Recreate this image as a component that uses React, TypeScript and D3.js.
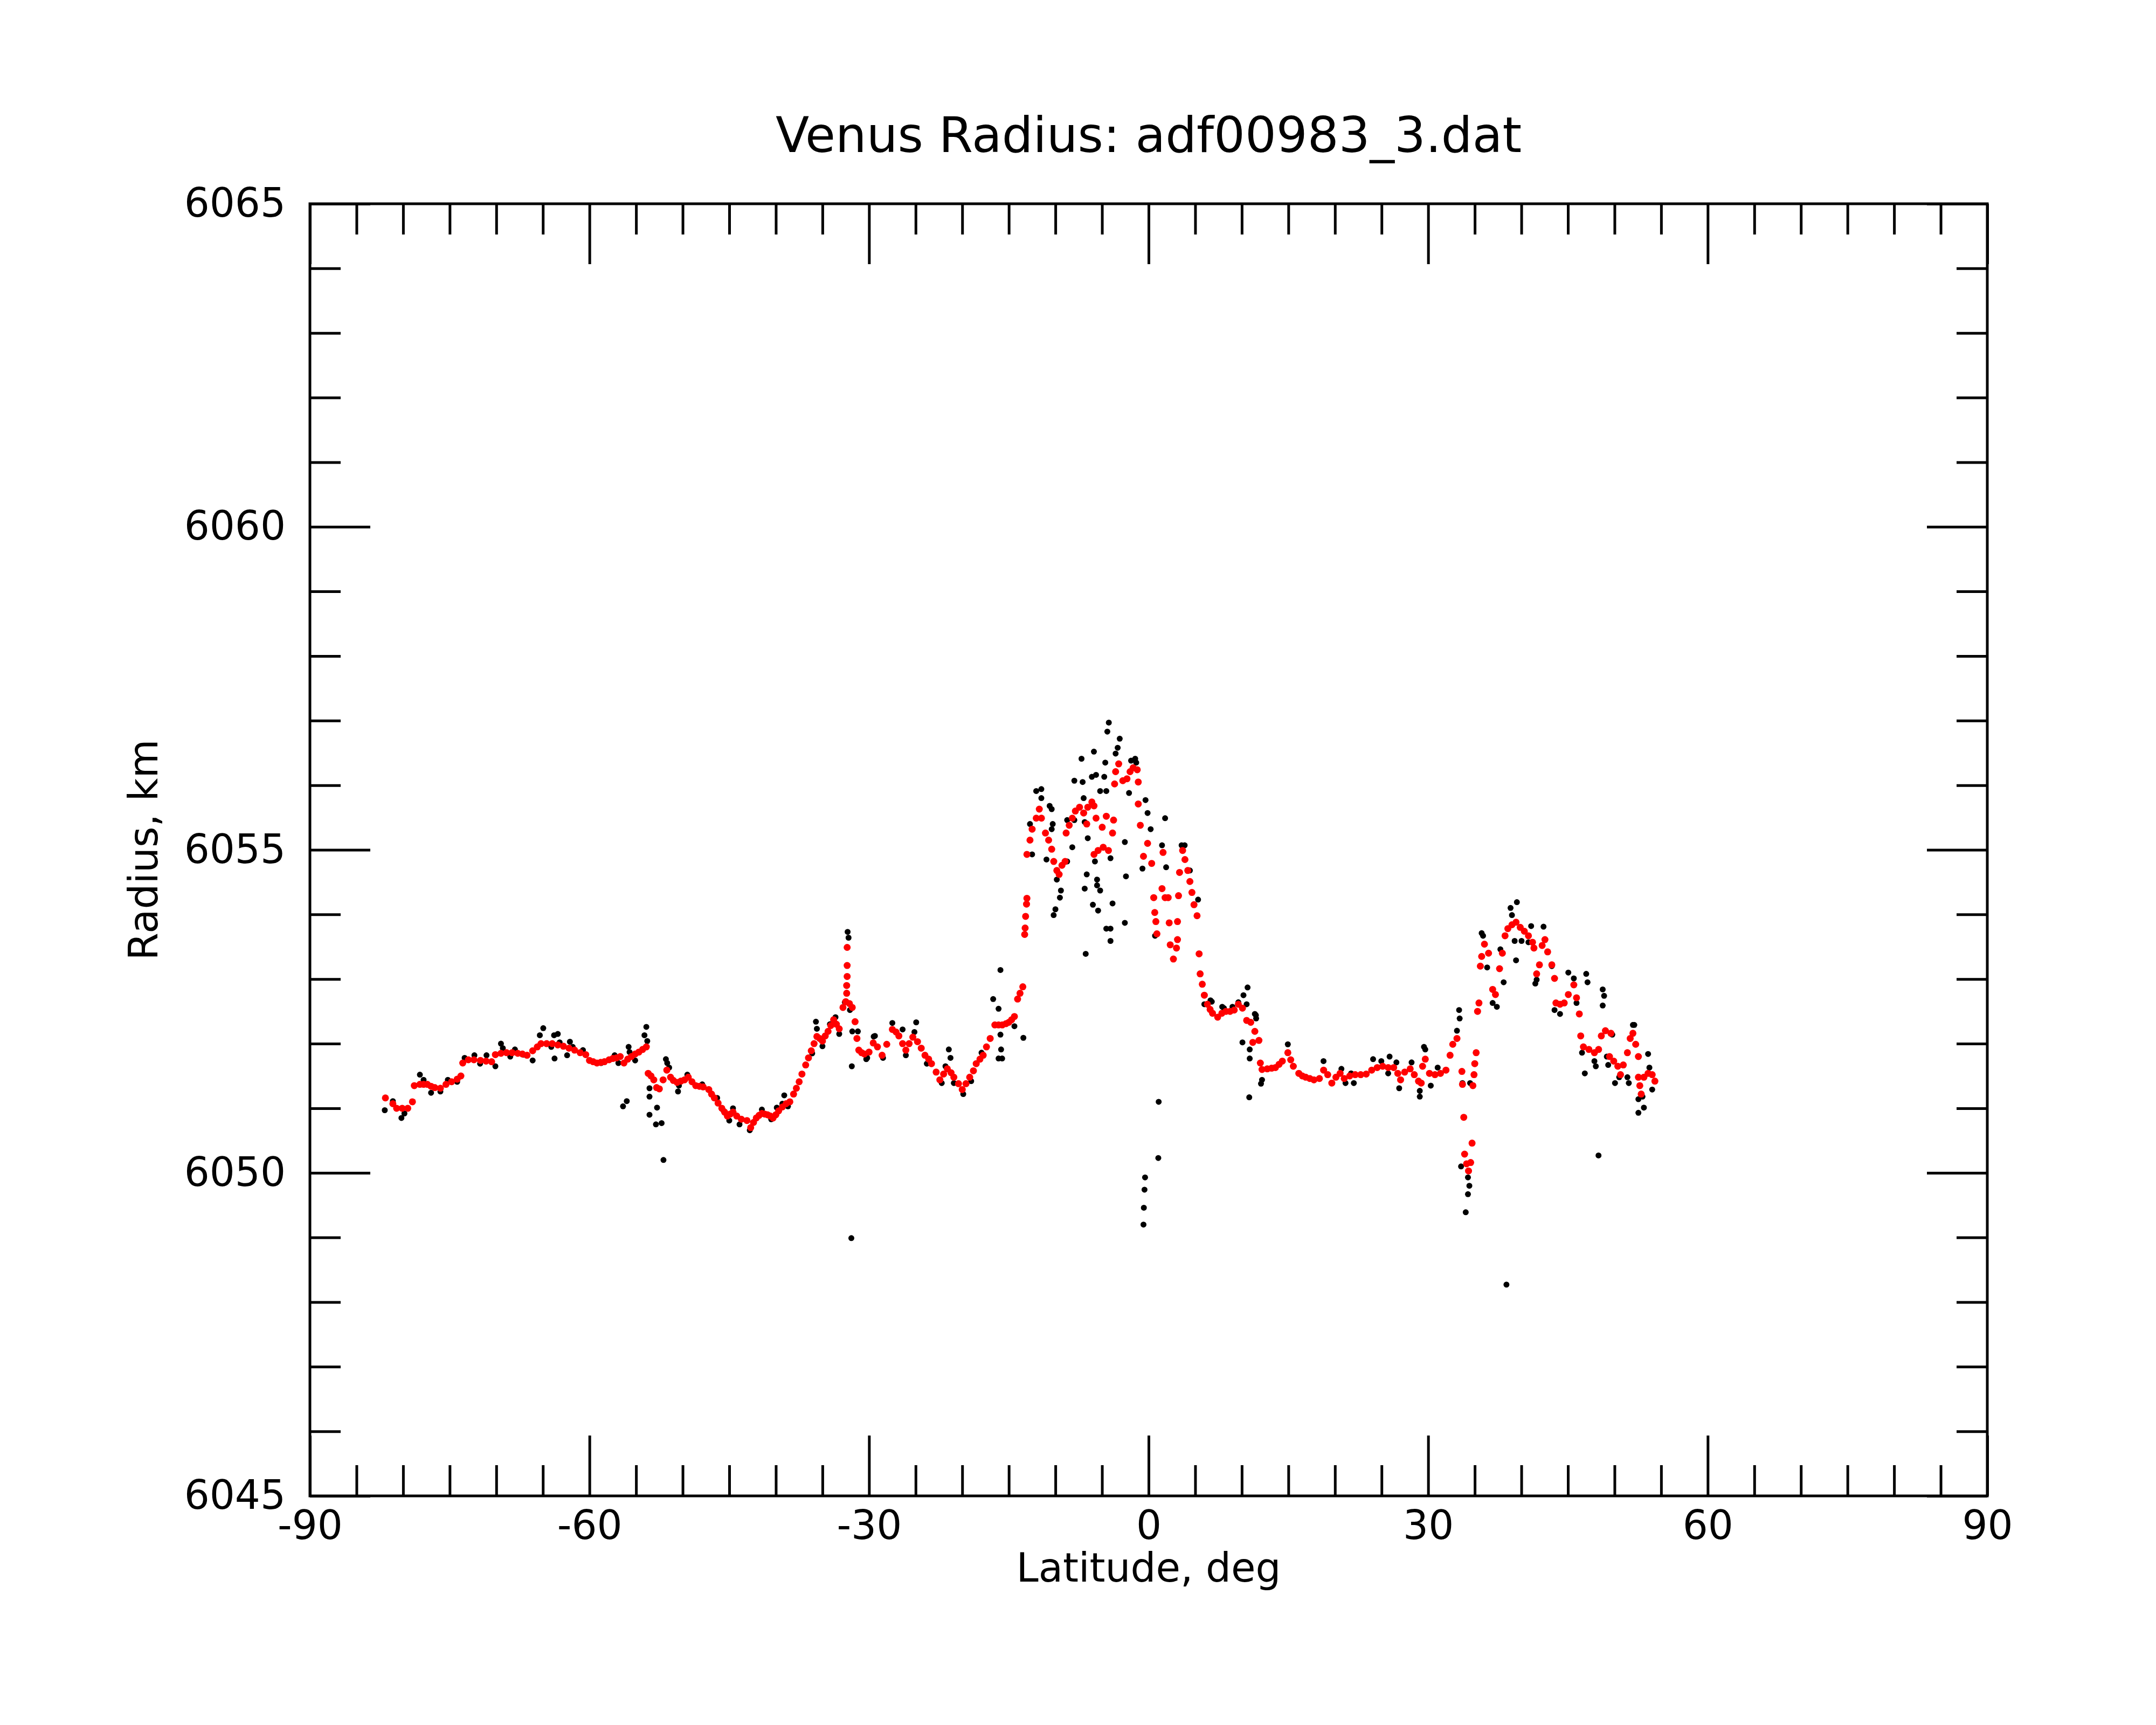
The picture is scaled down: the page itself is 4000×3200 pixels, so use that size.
import React, { useRef, useEffect } from 'react';
import * as d3 from 'd3';

// smoothed radius profile (red), [latitude deg, radius km]
const smoothedPoints: [number, number][] = [
  [-81.9, 6051.16], [-81.1, 6051.07], [-80.7, 6051.0], [-80.1, 6051.0], [-79.5, 6051.0], [-79.0, 6051.1],
  [-78.8, 6051.35], [-78.2, 6051.37], [-77.8, 6051.37], [-77.4, 6051.37], [-77.0, 6051.34], [-76.6, 6051.32],
  [-76.0, 6051.31], [-75.4, 6051.37], [-74.8, 6051.41], [-74.2, 6051.45], [-73.8, 6051.5], [-73.6, 6051.7],
  [-73.0, 6051.75], [-72.4, 6051.75], [-71.7, 6051.74], [-71.1, 6051.73], [-70.5, 6051.72], [-70.1, 6051.83],
  [-69.5, 6051.85], [-68.9, 6051.86], [-68.3, 6051.86], [-67.7, 6051.85], [-67.2, 6051.84], [-66.7, 6051.82],
  [-66.1, 6051.89], [-65.6, 6051.95], [-65.2, 6052.0], [-64.6, 6052.0], [-64.0, 6052.0], [-63.4, 6051.98],
  [-62.8, 6051.96], [-62.2, 6051.93], [-61.6, 6051.9], [-61.0, 6051.86], [-60.4, 6051.83], [-60.0, 6051.74],
  [-59.6, 6051.72], [-59.2, 6051.7], [-58.8, 6051.71], [-58.4, 6051.72], [-57.9, 6051.75], [-57.5, 6051.77],
  [-57.1, 6051.78], [-56.7, 6051.8], [-56.3, 6051.7], [-55.9, 6051.76], [-55.5, 6051.8], [-55.1, 6051.84],
  [-54.7, 6051.87], [-54.3, 6051.91], [-53.9, 6051.95], [-53.7, 6051.54], [-53.4, 6051.5], [-53.1, 6051.44],
  [-52.8, 6051.32], [-52.5, 6051.3], [-52.1, 6051.44], [-51.7, 6051.59], [-51.3, 6051.48], [-51.0, 6051.43],
  [-50.6, 6051.4], [-50.2, 6051.42], [-49.8, 6051.44], [-49.4, 6051.48], [-49.0, 6051.41], [-48.6, 6051.35],
  [-48.2, 6051.34], [-47.8, 6051.33], [-47.2, 6051.29], [-46.9, 6051.22], [-46.6, 6051.16], [-46.2, 6051.08],
  [-45.8, 6051.0], [-45.5, 6050.94], [-45.2, 6050.88], [-44.9, 6050.91], [-44.6, 6050.94], [-44.2, 6050.88],
  [-43.7, 6050.83], [-43.1, 6050.81], [-42.7, 6050.7], [-42.4, 6050.78], [-42.1, 6050.85], [-41.8, 6050.89],
  [-41.5, 6050.92], [-41.2, 6050.91], [-40.9, 6050.9], [-40.6, 6050.88], [-40.3, 6050.85], [-40.0, 6050.9],
  [-39.7, 6050.96], [-39.3, 6051.02], [-38.9, 6051.07], [-38.5, 6051.1], [-38.1, 6051.22], [-37.8, 6051.31],
  [-37.5, 6051.41], [-37.2, 6051.53], [-36.8, 6051.67], [-36.5, 6051.78], [-36.2, 6051.89], [-35.9, 6052.0],
  [-35.6, 6052.11], [-35.3, 6052.08], [-35.0, 6052.04], [-34.7, 6052.12], [-34.4, 6052.19], [-34.1, 6052.28],
  [-33.8, 6052.37], [-33.5, 6052.3], [-33.2, 6052.23], [-32.8, 6052.56], [-32.5, 6052.65], [-32.4, 6052.78],
  [-32.4, 6052.9], [-32.35, 6053.04], [-32.35, 6053.21], [-32.35, 6053.49], [-32.1, 6052.62], [-31.8, 6052.56],
  [-31.5, 6052.34], [-31.3, 6052.08], [-31.1, 6051.9], [-30.8, 6051.86], [-30.5, 6051.84], [-30.0, 6051.87],
  [-29.55, 6052.01], [-29.1, 6051.95], [-28.6, 6051.82], [-28.1, 6051.99], [-27.5, 6052.22], [-27.1, 6052.18],
  [-26.8, 6052.12], [-26.4, 6052.0], [-26.05, 6051.9], [-25.7, 6052.0], [-25.3, 6052.1], [-24.8, 6052.03],
  [-24.4, 6051.93], [-24.0, 6051.82], [-23.6, 6051.76], [-23.3, 6051.69], [-22.8, 6051.56], [-22.4, 6051.44],
  [-22.0, 6051.53], [-21.6, 6051.61], [-21.2, 6051.55], [-20.9, 6051.48], [-20.4, 6051.38], [-20.0, 6051.29],
  [-19.6, 6051.38], [-19.2, 6051.48], [-18.8, 6051.58], [-18.5, 6051.69], [-18.1, 6051.76], [-17.75, 6051.82],
  [-17.4, 6051.95], [-17.0, 6052.08], [-16.5, 6052.29], [-16.1, 6052.29], [-15.7, 6052.29], [-15.3, 6052.31],
  [-15.0, 6052.33], [-14.7, 6052.37], [-14.4, 6052.42], [-14.06, 6052.69], [-13.8, 6052.78], [-13.5, 6052.88],
  [-13.3, 6053.69], [-13.25, 6053.79], [-13.2, 6053.97], [-13.1, 6054.16], [-13.06, 6054.25], [-13.06, 6054.93],
  [-12.73, 6055.15], [-12.5, 6055.32], [-12.06, 6055.49], [-11.73, 6055.63], [-11.5, 6055.49], [-11.07, 6055.26],
  [-10.73, 6055.15], [-10.4, 6055.01], [-10.18, 6054.82], [-9.85, 6054.68], [-9.6, 6054.62], [-9.3, 6054.76],
  [-8.96, 6054.82], [-8.85, 6055.26], [-8.52, 6055.38], [-8.19, 6055.49], [-7.86, 6055.6], [-7.41, 6055.66],
  [-6.97, 6055.57], [-6.64, 6055.4], [-6.53, 6055.66], [-6.09, 6055.74], [-5.86, 6055.68], [-5.64, 6055.49],
  [-5.86, 6054.93], [-5.42, 6054.99], [-4.98, 6055.35], [-4.87, 6055.04], [-4.54, 6055.52], [-4.31, 6054.99],
  [-3.87, 6055.26], [-3.76, 6055.46], [-3.65, 6056.02], [-3.54, 6056.21], [-3.21, 6056.33], [-2.77, 6056.07],
  [-2.32, 6056.1], [-1.99, 6056.21], [-1.66, 6056.27], [-1.22, 6056.24], [-1.11, 6056.05], [-1.11, 6055.71],
  [-0.89, 6055.38], [-0.55, 6054.9], [-0.11, 6055.1], [0.33, 6054.79], [0.55, 6054.26], [0.66, 6054.03],
  [0.78, 6053.89], [0.89, 6053.7], [1.44, 6054.4], [1.55, 6054.96], [1.77, 6054.26], [2.1, 6054.26],
  [2.21, 6053.87], [2.32, 6053.53], [2.66, 6053.31], [2.99, 6053.48], [3.1, 6053.61], [3.1, 6053.89],
  [3.21, 6054.29], [3.32, 6054.65], [3.65, 6054.99], [3.9, 6054.85], [4.2, 6054.68], [4.43, 6054.51],
  [4.65, 6054.34], [4.87, 6054.15], [5.2, 6053.98], [5.42, 6053.39], [5.53, 6053.08], [5.76, 6052.92],
  [5.98, 6052.75], [6.31, 6052.61], [6.6, 6052.53], [6.86, 6052.47], [7.41, 6052.41], [7.86, 6052.47],
  [8.3, 6052.5], [8.74, 6052.5], [9.19, 6052.52], [9.63, 6052.61], [10.07, 6052.55], [10.52, 6052.36],
  [10.96, 6052.33], [11.18, 6052.02], [11.4, 6052.19], [11.84, 6052.05], [11.99, 6051.7], [12.17, 6051.6],
  [12.73, 6051.61], [13.2, 6051.62], [13.61, 6051.63], [14.0, 6051.68], [14.35, 6051.73], [14.94, 6051.86],
  [15.25, 6051.75], [15.53, 6051.65], [16.12, 6051.54], [16.5, 6051.5], [16.86, 6051.48], [17.3, 6051.46],
  [17.74, 6051.44], [18.33, 6051.46], [18.78, 6051.59], [19.22, 6051.52], [19.66, 6051.39], [20.1, 6051.48],
  [20.55, 6051.54], [20.99, 6051.46], [21.58, 6051.5], [22.17, 6051.52], [22.76, 6051.52], [23.35, 6051.53],
  [23.94, 6051.59], [24.53, 6051.63], [25.12, 6051.65], [25.71, 6051.63], [26.3, 6051.63], [26.74, 6051.54],
  [27.04, 6051.44], [27.48, 6051.56], [28.07, 6051.61], [28.51, 6051.52], [28.96, 6051.42], [29.25, 6051.39],
  [29.4, 6051.65], [29.69, 6051.76], [30.14, 6051.54], [30.73, 6051.52], [31.32, 6051.54], [31.91, 6051.59],
  [32.35, 6051.82], [32.64, 6051.99], [33.09, 6052.08], [33.62, 6051.57], [33.68, 6051.37], [33.82, 6050.86],
  [33.91, 6050.29], [34.12, 6050.14], [34.33, 6050.03], [34.56, 6050.16], [34.71, 6050.46], [34.8, 6051.35],
  [34.92, 6051.52], [35.0, 6051.69], [35.15, 6051.86], [35.3, 6052.5], [35.45, 6052.63], [35.6, 6053.2],
  [35.74, 6053.35], [36.04, 6053.54], [36.48, 6053.4], [36.92, 6052.84], [37.22, 6052.76], [37.66, 6053.16],
  [37.96, 6053.4], [38.25, 6053.67], [38.55, 6053.78], [38.99, 6053.84], [39.43, 6053.88], [39.88, 6053.8],
  [40.32, 6053.74], [40.76, 6053.67], [41.2, 6053.57], [41.35, 6053.48], [41.64, 6053.08], [41.94, 6053.22],
  [42.23, 6053.52], [42.53, 6053.61], [42.82, 6053.42], [43.27, 6053.22], [43.56, 6053.01], [43.71, 6052.63],
  [44.15, 6052.61], [44.6, 6052.63], [45.04, 6052.76], [45.63, 6052.91], [45.92, 6052.71], [46.22, 6052.46],
  [46.37, 6052.12], [46.66, 6051.95], [47.25, 6051.91], [47.84, 6051.86], [48.29, 6051.91], [48.58, 6052.12],
  [49.02, 6052.2], [49.61, 6052.16], [49.46, 6051.8], [49.91, 6051.73], [50.35, 6051.65], [50.64, 6051.52],
  [50.94, 6051.67], [51.38, 6051.86], [51.68, 6052.08], [51.97, 6052.16], [52.27, 6051.99], [52.56, 6051.8],
  [52.56, 6051.48], [52.71, 6051.35], [52.86, 6051.22], [53.15, 6051.48], [53.6, 6051.54], [54.04, 6051.52],
  [54.33, 6051.42],
];

// raw radius samples (black), [latitude deg, radius km]
const rawPoints: [number, number][] = [
  [-81.97, 6050.97], [-81.1, 6051.11], [-80.18, 6050.85], [-79.86, 6050.92], [-78.2, 6051.52], [-77.8, 6051.44],
  [-77.0, 6051.24], [-76.0, 6051.26], [-75.2, 6051.44], [-74.2, 6051.41], [-73.4, 6051.78], [-72.35, 6051.82],
  [-71.74, 6051.69], [-71.05, 6051.82], [-70.1, 6051.65], [-69.5, 6052.0], [-69.3, 6051.93], [-68.5, 6051.8],
  [-68.0, 6051.91], [-67.1, 6051.83], [-66.1, 6051.74], [-65.33, 6052.13], [-64.96, 6052.24], [-64.1, 6051.95],
  [-63.8, 6052.13], [-63.4, 6052.15], [-63.75, 6051.77], [-63.2, 6052.02], [-62.4, 6051.82], [-62.1, 6052.03],
  [-61.8, 6051.95], [-60.7, 6051.9], [-58.75, 6051.7], [-57.3, 6051.82], [-56.9, 6051.7], [-56.4, 6051.03],
  [-56.0, 6051.11], [-55.8, 6051.95], [-55.7, 6051.87], [-55.1, 6051.74], [-54.1, 6052.13], [-53.9, 6052.26],
  [-53.8, 6052.04], [-53.56, 6051.31], [-53.56, 6051.18], [-53.56, 6050.9], [-52.75, 6051.01], [-52.87, 6050.75],
  [-52.26, 6050.77], [-52.06, 6050.2], [-51.8, 6051.76], [-51.66, 6051.7], [-51.45, 6051.63], [-50.5, 6051.26],
  [-50.4, 6051.35], [-49.5, 6051.52], [-49.0, 6051.41], [-47.9, 6051.37], [-46.3, 6051.16], [-45.6, 6050.96],
  [-45.0, 6050.81], [-44.6, 6051.0], [-43.9, 6050.75], [-42.8, 6050.66], [-41.5, 6050.98], [-40.5, 6050.83],
  [-39.9, 6051.01], [-39.3, 6051.07], [-39.1, 6051.2], [-38.7, 6051.03], [-36.1, 6051.85], [-35.7, 6052.34],
  [-35.6, 6052.23], [-35.0, 6051.96], [-34.2, 6052.3], [-33.6, 6052.41], [-33.2, 6052.15], [-32.6, 6052.64],
  [-32.3, 6053.73], [-32.2, 6053.64], [-32.05, 6052.52], [-31.8, 6052.19], [-31.85, 6051.65], [-31.9, 6048.99],
  [-31.2, 6052.19], [-30.3, 6051.76], [-30.2, 6051.78], [-29.5, 6052.11], [-29.37, 6052.12], [-28.5, 6051.78],
  [-27.5, 6052.32], [-26.4, 6052.22], [-26.05, 6051.82], [-24.94, 6052.33], [-25.13, 6052.18], [-23.8, 6051.69],
  [-22.2, 6051.39], [-21.8, 6051.65], [-21.44, 6051.91], [-21.26, 6051.78], [-20.9, 6051.39], [-19.89, 6051.22],
  [-19.04, 6051.42], [-17.93, 6051.86], [-16.68, 6052.69], [-15.9, 6053.14], [-16.1, 6052.54], [-15.9, 6052.14],
  [-15.83, 6051.91], [-16.1, 6051.77], [-15.72, 6051.77], [-14.4, 6052.27], [-13.44, 6052.09], [-12.73, 6055.4],
  [-12.5, 6054.93], [-12.06, 6055.91], [-11.51, 6055.94], [-11.51, 6055.8], [-10.62, 6055.68], [-10.4, 6055.63],
  [-10.96, 6054.85], [-10.4, 6055.32], [-10.29, 6055.4], [-10.19, 6053.99], [-10.0, 6054.08], [-9.85, 6054.54],
  [-9.41, 6054.37], [-9.52, 6054.26], [-8.74, 6055.46], [-8.74, 6054.82], [-8.19, 6055.04], [-7.97, 6056.07],
  [-7.97, 6055.46], [-7.2, 6056.41], [-7.08, 6056.05], [-6.97, 6055.8], [-6.86, 6055.43], [-6.53, 6055.18],
  [-6.64, 6054.62], [-6.86, 6054.4], [-6.75, 6053.39], [-6.09, 6056.13], [-5.98, 6054.15], [-5.87, 6056.52],
  [-5.76, 6054.82], [-5.64, 6056.16], [-5.53, 6054.54], [-5.53, 6054.45], [-5.42, 6054.06], [-5.2, 6054.37],
  [-5.2, 6055.91], [-4.76, 6056.13], [-4.65, 6056.35], [-4.54, 6055.91], [-4.54, 6053.78], [-4.09, 6053.78],
  [-4.09, 6053.59], [-4.43, 6056.83], [-4.27, 6056.97], [-3.87, 6054.17], [-4.09, 6054.87], [-3.54, 6056.49],
  [-3.32, 6056.58], [-3.1, 6056.72], [-2.55, 6055.12], [-2.55, 6053.87], [-2.43, 6054.59], [-2.1, 6055.88],
  [-1.88, 6056.38], [-1.44, 6056.41], [-1.33, 6056.35], [-0.33, 6055.77], [-0.11, 6055.57], [0.22, 6055.32],
  [-0.66, 6054.71], [1.44, 6055.07], [1.77, 6055.49], [1.88, 6054.73], [1.08, 6051.1], [1.04, 6050.23],
  [-0.38, 6049.93], [-0.44, 6049.74], [-0.51, 6049.46], [-0.55, 6049.2], [0.69, 6053.67], [3.54, 6055.07],
  [3.87, 6055.07], [4.43, 6054.68], [5.31, 6054.23], [5.98, 6052.61], [6.64, 6052.67], [6.78, 6052.65],
  [7.9, 6052.57], [8.08, 6052.55], [9.0, 6052.57], [9.63, 6052.64], [10.62, 6052.87], [10.18, 6052.75],
  [10.52, 6052.61], [11.51, 6052.44], [11.4, 6052.46], [11.54, 6052.39], [10.07, 6052.02], [10.85, 6051.91],
  [10.85, 6051.77], [10.8, 6051.17], [12.17, 6051.44], [12.06, 6051.38], [14.94, 6051.99], [18.77, 6051.73],
  [20.69, 6051.61], [21.73, 6051.54], [21.13, 6051.39], [22.02, 6051.39], [24.09, 6051.76], [24.97, 6051.73],
  [25.86, 6051.8], [25.71, 6051.54], [26.59, 6051.71], [26.89, 6051.31], [28.22, 6051.71], [29.1, 6051.27],
  [29.1, 6051.18], [29.55, 6051.95], [29.69, 6051.91], [30.28, 6051.35], [31.02, 6051.63], [33.09, 6052.2],
  [33.32, 6052.52], [33.38, 6052.39], [33.68, 6051.39], [33.53, 6050.1], [34.27, 6049.93], [34.42, 6049.8],
  [34.27, 6049.67], [34.03, 6049.39], [34.5, 6051.39], [35.74, 6053.71], [35.89, 6053.67], [36.33, 6053.18],
  [36.92, 6052.63], [37.37, 6052.57], [38.1, 6052.95], [37.75, 6053.46], [38.84, 6054.1], [38.99, 6053.99],
  [39.52, 6054.19], [39.43, 6053.29], [39.28, 6053.59], [40.02, 6053.59], [40.76, 6053.57], [41.05, 6053.82],
  [41.5, 6052.93], [41.64, 6052.99], [42.38, 6053.81], [43.27, 6053.2], [43.56, 6052.52], [44.15, 6052.46],
  [45.04, 6053.1], [45.63, 6053.01], [45.92, 6052.63], [46.96, 6053.08], [47.1, 6052.95], [46.51, 6051.86],
  [46.81, 6051.54], [47.84, 6051.73], [47.99, 6051.65], [48.73, 6052.84], [48.88, 6052.74], [48.73, 6052.59],
  [48.28, 6050.27], [49.17, 6051.8], [49.32, 6051.67], [49.76, 6052.14], [50.05, 6051.39], [50.5, 6051.48],
  [51.38, 6051.48], [51.53, 6051.39], [51.97, 6052.29], [52.12, 6052.29], [52.56, 6051.14], [52.56, 6050.93],
  [53.15, 6051.01], [53.0, 6051.18], [53.6, 6051.84], [53.74, 6051.63], [54.04, 6051.29], [38.4, 6048.27],
];

const xMajorTicks = [-90, -60, -30, 0, 30, 60, 90];
const xMinorTicks = d3.range(-85, 90, 5).filter(v => v % 30 !== 0);
const yMajorTicks = [6045, 6050, 6055, 6060, 6065];
const yMinorTicks = d3.range(6046, 6065, 1).filter(v => v % 5 !== 0);

const WIDTH = 4000;
const HEIGHT = 3200;
const FONT = '"DejaVu Sans", "Liberation Sans", sans-serif';

const RadiusChart: React.FC = () => {
  const ref = useRef<SVGSVGElement | null>(null);

  useEffect(() => {
    if (!ref.current) return;
    const svg = d3.select(ref.current);
    svg.selectAll('*').remove();

    const margin = { top: 378, right: 313, bottom: 425, left: 575 };
    const innerW = WIDTH - margin.left - margin.right;
    const innerH = HEIGHT - margin.top - margin.bottom;

    const x = d3.scaleLinear().domain([-90, 90]).range([0, innerW]);
    const y = d3.scaleLinear().domain([6045, 6065]).range([innerH, 0]);

    svg.append('rect').attr('width', WIDTH).attr('height', HEIGHT).attr('fill', '#fff');

    const g = svg.append('g').attr('transform', `translate(${margin.left},${margin.top})`);

    // data first so the frame sits on top
    g.append('g')
      .selectAll('circle')
      .data(rawPoints)
      .enter().append('circle')
      .attr('cx', d => x(d[0]))
      .attr('cy', d => y(d[1]))
      .attr('r', 5.5)
      .attr('fill', '#000');

    g.append('g')
      .selectAll('circle')
      .data(smoothedPoints)
      .enter().append('circle')
      .attr('cx', d => x(d[0]))
      .attr('cy', d => y(d[1]))
      .attr('r', 6.5)
      .attr('fill', '#ff0000');

    const style = (sel: d3.Selection<SVGGElement, unknown, null, undefined>) => {
      sel.select('.domain').remove();
      sel.attr('font-family', FONT).attr('font-size', 74);
      sel.selectAll('line').attr('stroke', '#000').attr('stroke-width', 5);
      sel.selectAll('text').attr('fill', '#000');
    };

    // bottom
    g.append('g').attr('transform', `translate(0,${innerH})`)
      .call(d3.axisBottom(x).tickValues(xMajorTicks).tickSize(-112).tickPadding(27).tickFormat(d => String(d)))
      .call(style);
    g.append('g').attr('transform', `translate(0,${innerH})`)
      .call(d3.axisBottom(x).tickValues(xMinorTicks).tickSize(-57).tickFormat(() => ''))
      .call(style);
    // top
    g.append('g')
      .call(d3.axisTop(x).tickValues(xMajorTicks).tickSize(-112).tickFormat(() => ''))
      .call(style);
    g.append('g')
      .call(d3.axisTop(x).tickValues(xMinorTicks).tickSize(-57).tickFormat(() => ''))
      .call(style);
    // left
    g.append('g')
      .call(d3.axisLeft(y).tickValues(yMajorTicks).tickSize(-112).tickPadding(45).tickFormat(d => String(d)))
      .call(style);
    g.append('g')
      .call(d3.axisLeft(y).tickValues(yMinorTicks).tickSize(-57).tickFormat(() => ''))
      .call(style);
    // right
    g.append('g').attr('transform', `translate(${innerW},0)`)
      .call(d3.axisRight(y).tickValues(yMajorTicks).tickSize(-112).tickFormat(() => ''))
      .call(style);
    g.append('g').attr('transform', `translate(${innerW},0)`)
      .call(d3.axisRight(y).tickValues(yMinorTicks).tickSize(-57).tickFormat(() => ''))
      .call(style);

    g.append('rect')
      .attr('width', innerW)
      .attr('height', innerH)
      .attr('fill', 'none')
      .attr('stroke', '#000')
      .attr('stroke-width', 5);

    svg.append('text')
      .attr('x', margin.left + innerW / 2)
      .attr('y', 282)
      .attr('text-anchor', 'middle')
      .attr('font-family', FONT)
      .attr('font-size', 91)
      .text('Venus Radius: adf00983_3.dat');

    svg.append('text')
      .attr('x', margin.left + innerW / 2)
      .attr('y', 2934)
      .attr('text-anchor', 'middle')
      .attr('font-family', FONT)
      .attr('font-size', 74)
      .text('Latitude, deg');

    svg.append('text')
      .attr('transform', `translate(292,${margin.top + innerH / 2}) rotate(-90)`)
      .attr('text-anchor', 'middle')
      .attr('font-family', FONT)
      .attr('font-size', 74)
      .text('Radius, km');
  }, []);

  return (
    <svg
      ref={ref}
      width={WIDTH}
      height={HEIGHT}
      style={{ position: 'absolute', left: 0, top: 0, display: 'block' }}
    />
  );
};

export default function App() {
  return <RadiusChart />;
}
